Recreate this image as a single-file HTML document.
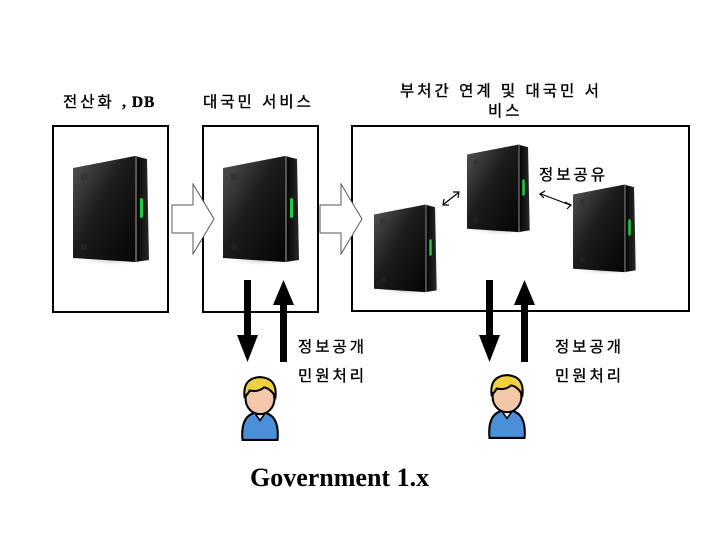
<!DOCTYPE html>
<html><head><meta charset="utf-8"><style>
body{margin:0;background:#fff;}
.wrap{position:relative;width:728px;height:546px;overflow:hidden;font-family:"Liberation Sans","Noto Sans CJK KR",sans-serif;}
.t{position:absolute;font-size:15.5px;letter-spacing:3px;color:#000;white-space:nowrap;-webkit-text-stroke:0.35px #000;}
</style></head><body><div class="wrap">
<svg width="728" height="546" style="position:absolute;left:0;top:0">
<defs>
<linearGradient id="fg" x1="0" y1="0" x2="1" y2="1"><stop offset="0" stop-color="#555"/><stop offset="0.45" stop-color="#1c1c1c"/><stop offset="1" stop-color="#050505"/></linearGradient>
<linearGradient id="sg" x1="0" y1="0" x2="1" y2="0"><stop offset="0" stop-color="#000"/><stop offset="1" stop-color="#2a2a2a"/></linearGradient>
<radialGradient id="sh"><stop offset="0" stop-color="#999" stop-opacity="0.6"/><stop offset="1" stop-color="#fff" stop-opacity="0"/></radialGradient>
<symbol id="srv" viewBox="0 0 80 110">
<ellipse cx="40" cy="104" rx="40" ry="6" fill="url(#sh)"/>
<polygon points="0,12 62,0 62,106 0,102" fill="url(#fg)"/>
<polygon points="62,0 74,3 76,104 62,106" fill="url(#sg)"/>
<rect x="62" y="0" width="2" height="106" fill="#555"/>
<rect x="8" y="18" width="6" height="6" fill="#333"/>
<rect x="8" y="88" width="6" height="6" fill="#222"/>
<rect x="67" y="42" width="3" height="20" rx="1.5" fill="#2c4"/>
</symbol>
<symbol id="person" viewBox="0 0 40 66">
<path d="M3 64 Q1 42 14 38 L26 38 Q39 42 37 64 Z" fill="#4a8fd8" stroke="#000" stroke-width="2"/>
<path d="M15 38 L20 45 L25 38 Z" fill="#fff" stroke="#000" stroke-width="1.5"/>
<ellipse cx="20" cy="24" rx="14" ry="15" fill="#f2c8a8" stroke="#000" stroke-width="2"/>
<path d="M5 22 Q3 4 20 3 Q37 4 35 22 Q30 14 24 13 Q18 18 10 16 Q8 20 5 22 Z" fill="#f0d040" stroke="#000" stroke-width="2"/>
</symbol>
<symbol id="ba" viewBox="0 0 44 72">
<polygon points="1,22 22,22 22,1 43,36 22,71 22,50 1,50" fill="#fff" stroke="#555" stroke-width="1"/>
</symbol>
</defs>
<rect x="53" y="126" width="115" height="186" fill="none" stroke="#000" stroke-width="2"/>
<rect x="203" y="126" width="115" height="186" fill="none" stroke="#000" stroke-width="2"/>
<rect x="352" y="126" width="337" height="185" fill="none" stroke="#000" stroke-width="2"/>
<use href="#srv" x="73" y="156" width="80" height="110"/>
<use href="#srv" x="223" y="156" width="80" height="110"/>
<use href="#srv" x="374" y="204" width="66" height="92"/>
<use href="#srv" x="467" y="144" width="66" height="92"/>
<use href="#srv" x="573" y="184" width="66" height="92"/>
<use href="#ba" x="171" y="183" width="44" height="72"/>
<use href="#ba" x="319" y="183" width="44" height="72"/>
<g stroke="#000" stroke-width="1.2" fill="none">
<line x1="444" y1="204" x2="458" y2="193"/><path d="M444 199 L443 205 L449 205"/><path d="M453 192 L459 192 L458 198"/>
<line x1="541" y1="194" x2="570" y2="205"/><path d="M545 191 L540 194 L544 198"/><path d="M565 202 L571 205 L567 209"/>
</g>
<g fill="#000">
<rect x="244" y="280" width="7" height="56"/><polygon points="237,335 258,335 247.5,362"/>
<rect x="280" y="304" width="7" height="58"/><polygon points="273,305 294,305 283.5,280"/>
<rect x="486" y="280" width="7" height="56"/><polygon points="479,335 500,335 489.5,362"/>
<rect x="521" y="304" width="7" height="58"/><polygon points="514,305 535,305 524.5,280"/>
</g>
<use href="#person" x="239" y="374" width="42" height="68"/>
<use href="#person" x="486" y="372" width="42" height="68"/>
</svg>
<div class="t" style="left:63px;top:90px;">전산화 <b style="font-family:'Liberation Serif',serif;letter-spacing:1px">, DB</b></div>
<div class="t" style="left:203px;top:90px;">대국민 서비스</div>
<div class="t" style="left:400px;top:79px;">부처간 연계 및 대국민 서</div>
<div class="t" style="left:488px;top:99px;">비스</div>
<div class="t" style="left:539px;top:163px;">정보공유</div>
<div class="t" style="left:298px;top:335px;">정보공개</div>
<div class="t" style="left:298px;top:364px;">민원처리</div>
<div class="t" style="left:555px;top:335px;">정보공개</div>
<div class="t" style="left:555px;top:364px;">민원처리</div>
<div style="position:absolute;left:250px;top:463px;font:bold 26px 'Liberation Serif',serif;">Government 1.x</div>
</div></body></html>
